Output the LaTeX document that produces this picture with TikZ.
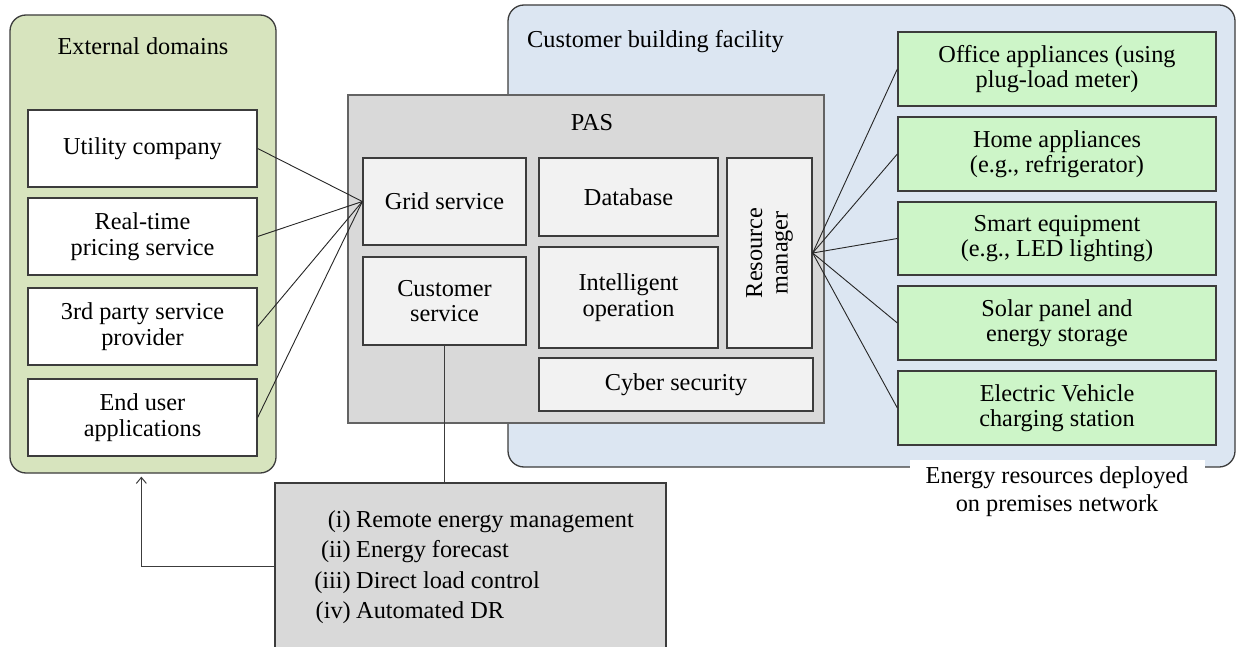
\documentclass[tikz,border=0pt]{standalone}
\usepackage{fontspec}
\setmainfont{Liberation Serif}
\usetikzlibrary{arrows.meta}
\definecolor{extgreen}{RGB}{215,228,190}
\definecolor{bldblue}{RGB}{220,230,242}
\definecolor{pasgrey}{RGB}{217,217,217}
\definecolor{innergrey}{RGB}{242,242,242}
\definecolor{resgreen}{RGB}{205,245,200}
\definecolor{bd}{RGB}{60,60,60}
\tikzset{
  txt/.style={font=\fontsize{24.3}{25.5}\selectfont, align=center, text=black},
  boxbase/.style={txt, draw=bd, line width=1.3pt, inner sep=2pt},
  region/.style={boxbase, rounded corners=16pt},
  whitebox/.style={boxbase, fill=white, minimum width=229pt, minimum height=77pt},
  innerbox/.style={boxbase, fill=innergrey},
  resbox/.style={boxbase, fill=resgreen, minimum width=318pt, minimum height=74pt},
  conn/.style={draw=black!85, line width=0.9pt},
  vline/.style={draw=bd, line width=1.3pt},
}
\begin{document}
\begin{tikzpicture}[x=1pt,y=-1pt]
\clip (0,0) rectangle (1236,647);
\fill[white] (0,0) rectangle (1236,647);

% External domains region
\node[region, fill=extgreen, minimum width=266pt, minimum height=458pt] (ext) at (143,244) {};
\node[txt] (extt) at (143,46) {External domains};
\node[whitebox] (uc) at (142.5,148.5) {Utility company};
\node[whitebox] (rt) at (142.5,236.5) {Real-time\\pricing service};
\node[whitebox] (tp) at (142.5,326.5) {3rd party service\\provider};
\node[whitebox] (eu) at (142.5,417.5) {End user\\applications};

% Customer building facility region
\node[region, fill=bldblue, minimum width=727pt, minimum height=462pt] (cbf) at (871.5,236) {};
\node[txt, anchor=west, inner sep=0pt] (cbft) at (527,42) {Customer building facility};

% PAS
\node[boxbase, fill=pasgrey, draw=bd!80, minimum width=476pt, minimum height=328pt] (pas) at (586,259) {};
\node[txt] (past) at (592,123) {PAS};
\node[innerbox, minimum width=163pt, minimum height=87pt] (gs) at (444.5,201.5) {Grid service};
\node[innerbox, minimum width=163pt, minimum height=88pt] (cs) at (444.5,301) {Customer\\service};
\node[innerbox, minimum width=179pt, minimum height=78pt] (db) at (628.5,197) {Database};
\node[innerbox, minimum width=179pt, minimum height=101pt] (io) at (628.5,297.5) {Intelligent\\operation};
\node[innerbox, minimum width=85pt, minimum height=190pt] (rm) at (769.5,253) {};
\node[txt, rotate=90] (rmt) at (rm.center) {Resource\\manager};
\node[innerbox, minimum width=274pt, minimum height=53pt] (cy) at (676,384.5) {Cyber security};

% Energy resources
\node[resbox] (oa) at (1057,69) {Office appliances (using\\plug-load meter)};
\node[resbox] (ha) at (1057,154) {Home appliances\\(e.g., refrigerator)};
\node[resbox, minimum height=73pt] (se) at (1057,238.5) {Smart equipment\\(e.g., LED lighting)};
\node[resbox] (sp) at (1057,323) {Solar panel and\\energy storage};
\node[resbox] (ev) at (1057,408) {Electric Vehicle\\charging station};
\node[txt, font=\fontsize{24.3}{28}\selectfont, fill=white, minimum width=295pt, minimum height=64pt] (ert) at (1057,492) {Energy resources deployed\\on premises network};

% Connectors left
\draw[conn] (uc.east) -- (gs.west);
\draw[conn] (rt.east) -- (gs.west);
\draw[conn] (tp.east) -- (gs.west);
\draw[conn] (eu.east) -- (gs.west);

% Connectors right
\draw[conn] (rm.east) -- (oa.west);
\draw[conn] (rm.east) -- (ha.west);
\draw[conn] (rm.east) -- (se.west);
\draw[conn] (rm.east) -- (sp.west);
\draw[conn] (rm.east) -- (ev.west);

% Bottom list box
\node[boxbase, fill=pasgrey, minimum width=391pt, minimum height=197pt] (dr) at (470.5,581.5) {};
\node[txt, anchor=base east, inner sep=0pt] (l1a) at (351,527) {(i)};
\node[txt, anchor=base west, inner sep=0pt] (l1b) at (356,527) {Remote energy management};
\node[txt, anchor=base east, inner sep=0pt] (l2a) at (351,557.5) {(ii)};
\node[txt, anchor=base west, inner sep=0pt] (l2b) at (356,557.5) {Energy forecast};
\node[txt, anchor=base east, inner sep=0pt] (l3a) at (351,588) {(iii)};
\node[txt, anchor=base west, inner sep=0pt] (l3b) at (356,588) {Direct load control};
\node[txt, anchor=base east, inner sep=0pt] (l4a) at (351,618.5) {(iv)};
\node[txt, anchor=base west, inner sep=0pt] (l4b) at (356,618.5) {Automated DR};

\coordinate (drout) at (dr.west |- 0,566);
\coordinate (exin) at ([xshift=132pt]ext.south west);
\draw[vline] (cs.south) -- (cs.south |- dr.north);
\draw[vline, line width=1pt, -{Straight Barb[length=6pt,width=10pt]}, shorten >=3pt] (drout) -| (exin);
\end{tikzpicture}
\end{document}
